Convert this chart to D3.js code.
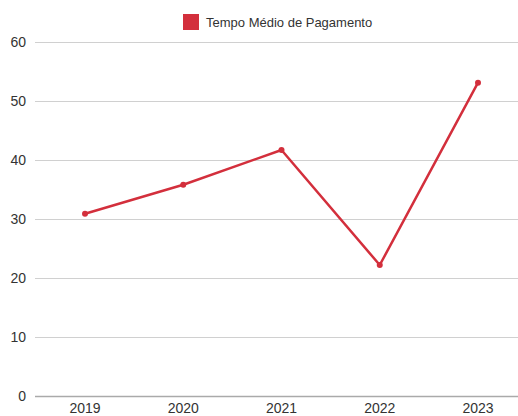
<!DOCTYPE html>
<html>
<head>
<meta charset="utf-8">
<script src="https://cdn.jsdelivr.net/npm/d3@7"></script>
<style>
  body { margin: 0; background: #fff; }
  text { font-family: "Liberation Sans", Arial, sans-serif; }
</style>
</head>
<body>
<svg id="chart" width="518" height="416"></svg>
<script>
const years = ["2019", "2020", "2021", "2022", "2023"];
const tempoMedio = [30.9, 35.8, 41.7, 22.2, 53.1];
const yTicks = [0, 10, 20, 30, 40, 50, 60];
const seriesName = "Tempo Médio de Pagamento";
const red = "#d32f3c";

const svg = d3.select("#chart");

const x = d3.scalePoint().domain(years).range([85, 478]);
const y = d3.scaleLinear().domain([0, 60]).range([396, 42]);

// gridlines + y labels
const yAxis = svg.append("g")
  .attr("transform", "translate(35,0)")
  .call(d3.axisRight(y).tickValues(yTicks).tickSize(483).tickFormat(""));
yAxis.select(".domain").remove();
yAxis.selectAll(".tick line")
  .attr("stroke", d => d === 0 ? "#aaa" : "#d0d0d0")
  .attr("stroke-width", d => d === 0 ? 1.5 : 1);

svg.append("g")
  .selectAll("text")
  .data(yTicks)
  .enter()
  .append("text")
  .attr("x", 26)
  .attr("y", d => y(d))
  .attr("dy", "0.35em")
  .attr("text-anchor", "end")
  .attr("font-size", "14px")
  .attr("fill", "#333")
  .text(d => d);

// x labels
svg.append("g")
  .selectAll("text")
  .data(years)
  .enter()
  .append("text")
  .attr("x", d => x(d))
  .attr("y", 413)
  .attr("text-anchor", "middle")
  .attr("font-size", "14px")
  .attr("fill", "#333")
  .text(d => d);

// line
const pts = years.map((d, i) => [d, tempoMedio[i]]);
svg.append("path")
  .datum(pts)
  .attr("fill", "none")
  .attr("stroke", red)
  .attr("stroke-width", 2.5)
  .attr("stroke-linejoin", "round")
  .attr("d", d3.line().x(d => x(d[0])).y(d => y(d[1])));

svg.append("g")
  .selectAll("circle")
  .data(pts)
  .enter()
  .append("circle")
  .attr("cx", d => x(d[0]))
  .attr("cy", d => y(d[1]))
  .attr("r", 3)
  .attr("fill", red);

// legend
const legend = svg.append("g").attr("transform", "translate(183,14)");
legend.append("rect")
  .attr("width", 16)
  .attr("height", 16)
  .attr("fill", red);
legend.append("text")
  .attr("x", 23)
  .attr("y", 12.5)
  .attr("font-size", "13px")
  .attr("fill", "#333")
  .text(seriesName);
</script>
</body>
</html>
